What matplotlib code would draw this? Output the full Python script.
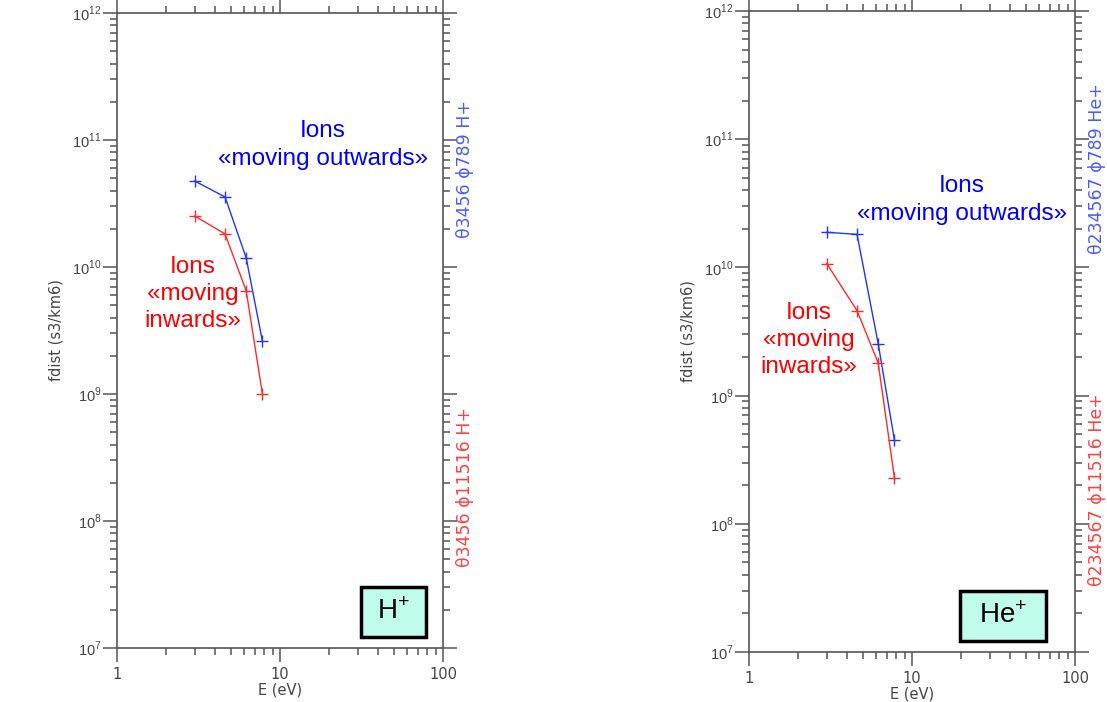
import numpy as np
import matplotlib.pyplot as plt
from matplotlib.patches import Rectangle
from matplotlib.ticker import LogLocator, FixedFormatter, FixedLocator

plt.rcParams['mathtext.fontset'] = 'custom'
plt.rcParams['mathtext.rm'] = 'Liberation Sans'

# Energy channels (eV) and distribution function values
energy = [3.0, 4.6, 6.2, 7.8]
h_out = [4.75e10, 3.56e10, 1.18e10, 2.6e9]
h_in = [2.52e10, 1.82e10, 6.5e9, 1.0e9]
he_out = [1.88e10, 1.81e10, 2.55e9, 4.5e8]
he_in = [1.07e10, 4.6e9, 1.8e9, 2.29e8]

x_ticks = [1, 10, 100]
x_labels = ["1", "10", "100"]
y_ticks = [1e7, 1e8, 1e9, 1e10, 1e11, 1e12]
y_labels = [r"$10^{7}$", r"$10^{8}$", r"$10^{9}$", r"$10^{10}$", r"$10^{11}$", r"$10^{12}$"]

panels = [
    dict(pos=[0.1057, 0.0769, 0.2945, 0.9046], out=h_out, inn=h_in, ion="H",
         out_lbl="θ3456 ϕ789 H+", in_lbl="θ3456 ϕ11516 H+",
         out_txt=(0.632, 0.792), in_txt=(0.233, 0.557), box=(0.748, 0.017, 0.200, 0.079)),
    dict(pos=[0.6766, 0.0712, 0.2945, 0.9131], out=he_out, inn=he_in, ion="He",
         out_lbl="θ234567 ϕ789 He+", in_lbl="θ234567 ϕ11516 He+",
         out_txt=(0.653, 0.705), in_txt=(0.184, 0.487), box=(0.647, 0.017, 0.264, 0.078)),
]

axis_col = '#555555'
fig = plt.figure(figsize=(11.07, 7.02), dpi=100)

for p in panels:
    ax = fig.add_axes(p['pos'])
    ax.set_xscale('log')
    ax.set_yscale('log')
    ax.set_xlim(1, 100)
    ax.set_ylim(1e7, 1e12)

    ax.plot(energy, p['out'], color='#2233ff', lw=1, marker='+', ms=9, mew=1)
    ax.plot(energy, p['inn'], color='#ff2a2a', lw=1, marker='+', ms=9, mew=1)

    # IDL-style frame: outward ticks on all four sides
    for s in ax.spines.values():
        s.set_color(axis_col)
        s.set_linewidth(1.2)
    ax.xaxis.set_major_locator(FixedLocator(x_ticks))
    ax.xaxis.set_major_formatter(FixedFormatter(x_labels))
    ax.yaxis.set_major_locator(FixedLocator(y_ticks))
    ax.yaxis.set_major_formatter(FixedFormatter(y_labels))
    ax.xaxis.set_minor_locator(LogLocator(base=10, subs=np.arange(2, 10)))
    ax.yaxis.set_minor_locator(LogLocator(base=10, subs=np.arange(2, 10)))
    ax.tick_params(which='both', direction='out', top=True, right=True,
                   color=axis_col, width=1.1, labelcolor='#444444', labelsize=10.5)
    ax.tick_params(which='major', length=10)
    ax.tick_params(which='minor', length=5)
    ax.tick_params(axis='x', pad=4)
    ax.tick_params(axis='y', pad=1)
    ax.xaxis.set_minor_formatter(FixedFormatter([]))
    ax.yaxis.set_minor_formatter(FixedFormatter([]))

    ax.set_xlabel("E (eV)", color='#444444', fontsize=10.5, labelpad=0)
    ax.set_ylabel("fdist (s3/km6)", color='#444444', fontsize=10.5, labelpad=6)

    # channel labels on the right side
    ax.text(1.067, 0.755, p['out_lbl'], transform=ax.transAxes, rotation=90,
            ha='center', va='center', color='#4a5cff', fontsize=12.5)
    ax.text(1.067, 0.254, p['in_lbl'], transform=ax.transAxes, rotation=90,
            ha='center', va='center', color='#ff4040', fontsize=12.5)

    ax.text(*p['out_txt'], "Ions\n«moving outwards»", transform=ax.transAxes,
            ha='center', va='center', color='#0000ff', fontsize=17.5,
            family='Liberation Sans', linespacing=1.35)
    ax.text(*p['in_txt'], "Ions\n«moving\ninwards»", transform=ax.transAxes,
            ha='center', va='center', color='#ff0000', fontsize=17.5,
            family='Liberation Sans', linespacing=1.3)

    bx, by, bw, bh = p['box']
    ax.add_patch(Rectangle((bx, by), bw, bh, transform=ax.transAxes,
                           facecolor='#bffcec', edgecolor='black', lw=2.5, zorder=5))
    ax.text(bx + bw / 2, by + bh / 2, p['ion'] + r"$^{+}$", transform=ax.transAxes,
            ha='center', va='center', fontsize=20, family='Liberation Sans',
            color='black', zorder=6)

plt.savefig("out.png", dpi=100)
